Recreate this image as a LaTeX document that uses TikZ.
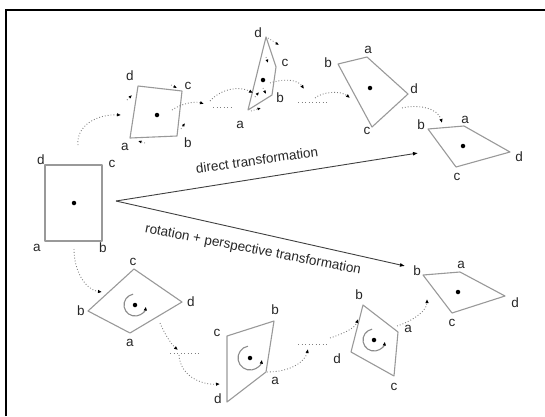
\documentclass[tikz,border=0pt]{standalone}
\usepackage{fontspec}
\setmainfont{Liberation Sans}
\usetikzlibrary{arrows.meta}

\begin{document}
\begin{tikzpicture}[x=1pt, y=-1pt,
    quad/.style={draw=black!40, line width=1.1pt, line join=round},
    lbl/.style={font=\fontsize{13.5}{15}\selectfont, text=black!85, inner sep=0pt},
    centre/.style={circle, fill=black, inner sep=0pt, minimum size=4.5pt},
    hop/.style={draw=black!50, dotted, line width=0.9pt, -{Latex[length=4pt, width=3.5pt, color=black]}},
    gap/.style={draw=black!50, line width=0.9pt, dash pattern=on 1pt off 2.5pt},
    nudge/.style={draw=black!50, dotted, line width=0.8pt, -{Latex[length=3.5pt, width=3pt, color=black]}},
    spin/.style={draw=black!45, line width=1.1pt, -{Latex[length=4pt, width=3.5pt, color=black]}},
    warp/.style={draw=black!75, line width=0.9pt, -{Latex[length=5pt, width=4pt, color=black]}}]

    \useasboundingbox (0,0) rectangle (545,416);
    \draw[line width=2.5pt] (6,416) -- (6,10) -- (545,10);

    \coordinate (r0a) at (45,241);
    \coordinate (r0b) at (102,241);
    \coordinate (r0c) at (102,165);
    \coordinate (r0d) at (45,165);
    \draw[quad] (r0a) -- (r0b) -- (r0c) -- (r0d) -- cycle;
    \node[centre] at (74,203) (r0) {};
    \node[lbl] at (37,248) (r0la) {a};
    \node[lbl] at (103,248) (r0lb) {b};
    \node[lbl] at (112,164) (r0lc) {c};
    \node[lbl] at (41,160) (r0ld) {d};

    \coordinate (t1a) at (130,138);
    \coordinate (t1b) at (177,136);
    \coordinate (t1c) at (182,91);
    \coordinate (t1d) at (138,86);
    \draw[quad] (t1a) -- (t1b) -- (t1c) -- (t1d) -- cycle;
    \node[centre] at (157,115) (t1) {};
    \node[lbl] at (125,147) (t1la) {a};
    \node[lbl] at (188,143) (t1lb) {b};
    \node[lbl] at (188,86) (t1lc) {c};
    \node[lbl] at (130,76) (t1ld) {d};

    \coordinate (t2a) at (248,110);
    \coordinate (t2b) at (272,95);
    \coordinate (t2c) at (276,67);
    \coordinate (t2d) at (266,37);
    \draw[quad] (t2a) -- (t2b) -- (t2c) -- (t2d) -- cycle;
    \node[centre] at (263,80) (t2) {};
    \node[lbl] at (240,125) (t2la) {a};
    \node[lbl] at (280,98) (t2lb) {b};
    \node[lbl] at (285,63) (t2lc) {c};
    \node[lbl] at (258,33) (t2ld) {d};

    \coordinate (t3a) at (367,57);
    \coordinate (t3b) at (338,64);
    \coordinate (t3c) at (372,127);
    \coordinate (t3d) at (408,94);
    \draw[quad] (t3a) -- (t3b) -- (t3c) -- (t3d) -- cycle;
    \node[centre] at (370,88) (t3) {};
    \node[lbl] at (368,50) (t3la) {a};
    \node[lbl] at (328,63) (t3lb) {b};
    \node[lbl] at (367,131) (t3lc) {c};
    \node[lbl] at (414,89) (t3ld) {d};

    \coordinate (t4a) at (464,126);
    \coordinate (t4b) at (428,129);
    \coordinate (t4c) at (456,167);
    \coordinate (t4d) at (510,152);
    \draw[quad] (t4a) -- (t4b) -- (t4c) -- (t4d) -- cycle;
    \node[centre] at (463,146) (t4) {};
    \node[lbl] at (465,120) (t4la) {a};
    \node[lbl] at (421,125) (t4lb) {b};
    \node[lbl] at (457,177) (t4lc) {c};
    \node[lbl] at (519,157) (t4ld) {d};

    \coordinate (b1a) at (130,333);
    \coordinate (b1b) at (88,311);
    \coordinate (b1c) at (134,269);
    \coordinate (b1d) at (182,302);
    \draw[quad] (b1a) -- (b1b) -- (b1c) -- (b1d) -- cycle;
    \node[centre] at (135,305) (b1) {};
    \node[lbl] at (130,343) (b1la) {a};
    \node[lbl] at (81,311) (b1lb) {b};
    \node[lbl] at (133,262) (b1lc) {c};
    \node[lbl] at (191,302) (b1ld) {d};

    \coordinate (b2a) at (266,372);
    \coordinate (b2b) at (274,321);
    \coordinate (b2c) at (227,336);
    \coordinate (b2d) at (227,402);
    \draw[quad] (b2a) -- (b2b) -- (b2c) -- (b2d) -- cycle;
    \node[centre] at (250,358) (b2) {};
    \node[lbl] at (275,381) (b2la) {a};
    \node[lbl] at (275,310) (b2lb) {b};
    \node[lbl] at (217,333) (b2lc) {c};
    \node[lbl] at (218,399) (b2ld) {d};

    \coordinate (b3a) at (398,332);
    \coordinate (b3b) at (363,305);
    \coordinate (b3c) at (394,376);
    \coordinate (b3d) at (351,352);
    \draw[quad] (b3a) -- (b3b) -- (b3d) -- (b3c) -- cycle;
    \node[centre] at (374,340) (b3) {};
    \node[lbl] at (408,329) (b3la) {a};
    \node[lbl] at (359,295) (b3lb) {b};
    \node[lbl] at (394,387) (b3lc) {c};
    \node[lbl] at (337,359) (b3ld) {d};

    \coordinate (b4a) at (460,272);
    \coordinate (b4b) at (423,275);
    \coordinate (b4c) at (452,313);
    \coordinate (b4d) at (505,296);
    \draw[quad] (b4a) -- (b4b) -- (b4c) -- (b4d) -- cycle;
    \node[centre] at (458,292) (b4) {};
    \node[lbl] at (461,265) (b4la) {a};
    \node[lbl] at (417,271) (b4lb) {b};
    \node[lbl] at (452,323) (b4lc) {c};
    \node[lbl] at (515,303) (b4ld) {d};

    \coordinate (apex) at (116,201);
    \coordinate (dirend) at (418,153);
    \coordinate (rotend) at (405,266);
    \draw[warp] (apex) -- (dirend);
    \draw[warp] (apex) -- (rotend);
    \node[lbl, rotate=8] at (257,160) (dirtext) {direct transformation};
    \node[lbl, rotate=-11] at (253,250) (rottext) {rotation + perspective transformation};

    \coordinate (s1s) at (78,145);
    \coordinate (s1e) at (121,115);
    \coordinate (s2s) at (172,110);
    \coordinate (s2e) at (204,104);
    \coordinate (g1s) at (213,107);
    \coordinate (g1e) at (232,107);
    \coordinate (s3s) at (210,101);
    \coordinate (s3e) at (253,93);
    \coordinate (s4s) at (270,83);
    \coordinate (s4e) at (304,89);
    \coordinate (g2s) at (298,102);
    \coordinate (g2e) at (328,102);
    \coordinate (s5s) at (315,98);
    \coordinate (s5e) at (350,98);
    \coordinate (s6s) at (402,108);
    \coordinate (s6e) at (442,123);
    \draw[hop] (s1s) .. controls (76,125) and (98,114) .. (s1e);
    \draw[hop] (s2s) .. controls (182,103) and (196,101) .. (s2e);
    \draw[gap] (g1s) -- (g1e);
    \draw[hop] (s3s) .. controls (222,88) and (240,86) .. (s3e);
    \draw[hop] (s4s) .. controls (285,78) and (298,80) .. (s4e);
    \draw[gap] (g2s) -- (g2e);
    \draw[hop] (s5s) .. controls (322,92) and (340,90) .. (s5e);
    \draw[hop] (s6s) .. controls (418,104) and (438,108) .. (s6e);

    \coordinate (u1s) at (74,249);
    \coordinate (u1e) at (102,292);
    \coordinate (u2s) at (160,323);
    \coordinate (u2e) at (178,350);
    \coordinate (h1s) at (170,353);
    \coordinate (h1e) at (200,353);
    \coordinate (u3s) at (179,355);
    \coordinate (u3e) at (220,384);
    \coordinate (u4s) at (267,372);
    \coordinate (u4e) at (308,349);
    \coordinate (h2s) at (298,344);
    \coordinate (h2e) at (328,344);
    \coordinate (u5s) at (330,338);
    \coordinate (u5e) at (358,319);
    \coordinate (u6s) at (397,326);
    \coordinate (u6e) at (427,299);
    \draw[hop] (u1s) .. controls (74,272) and (86,290) .. (u1e);
    \draw[hop] (u2s) .. controls (165,335) and (172,345) .. (u2e);
    \draw[gap] (h1s) -- (h1e);
    \draw[hop] (u3s) .. controls (180,375) and (200,385) .. (u3e);
    \draw[hop] (u4s) .. controls (290,372) and (305,362) .. (u4e);
    \draw[gap] (h2s) -- (h2e);
    \draw[hop] (u5s) .. controls (345,333) and (355,328) .. (u5e);
    \draw[hop] (u6s) .. controls (415,320) and (427,310) .. (u6e);

    \draw[spin] (b1.center) ++(-100:11) arc[start angle=-100, end angle=-352, radius=11];
    \draw[spin] (b2.center) ++(-100:12) arc[start angle=-100, end angle=-352, radius=12];
    \draw[spin] (b3.center) ++(-100:11) arc[start angle=-100, end angle=-352, radius=11];

    \draw[nudge] (127,100) -- (132,95);
    \draw[nudge] (171,85) -- (177,88);
    \draw[nudge] (181,129) -- (185,123);
    \draw[nudge] (145,143) -- (138,141);

    \draw[nudge] (268,38) -- (279,45);
    \draw[nudge] (266,57) -- (268,63);
    \draw[nudge] (255,97) -- (259,92);
    \draw[nudge] (263,88) -- (266,94);
    \draw[nudge] (251,111) -- (261,108);

  \end{tikzpicture}
\end{document}
